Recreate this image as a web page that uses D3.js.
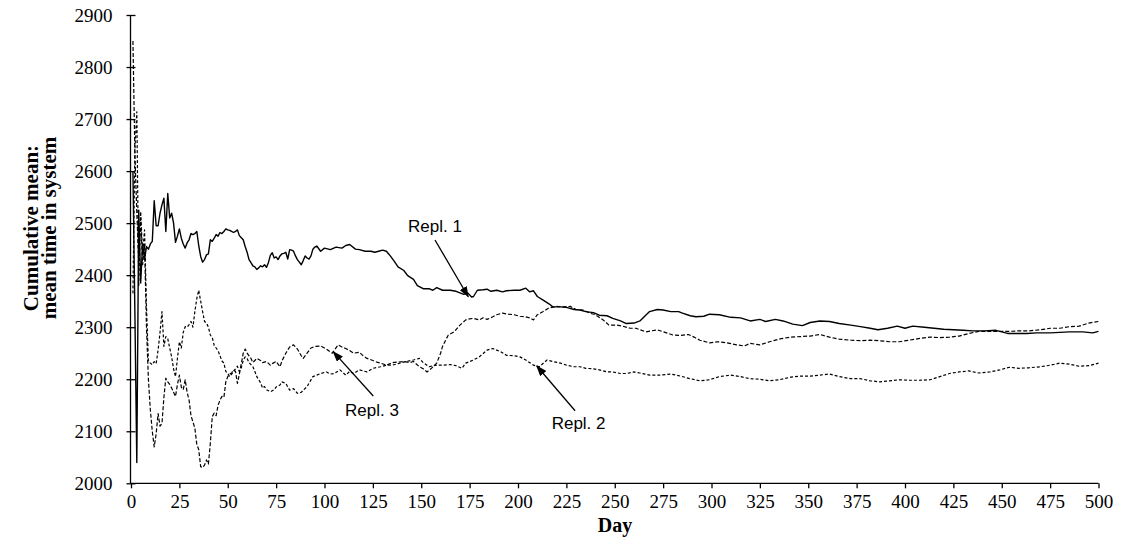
<!DOCTYPE html>
<html><head><meta charset="utf-8">
<script src="https://cdn.jsdelivr.net/npm/d3@7"></script>
<style>body{margin:0;background:#fff;} svg{display:block;}</style>
</head><body>
<svg id="chart" width="1127" height="556"></svg>
<script>
// ---------- DATA ----------
const yTickValues = [2000, 2100, 2200, 2300, 2400, 2500, 2600, 2700, 2800, 2900];
const xTickValues = [0, 25, 50, 75, 100, 125, 150, 175, 200, 225, 250, 275, 300, 325, 350, 375, 400, 425, 450, 475, 500];
const seriesNames = ["Repl. 1", "Repl. 2", "Repl. 3"];

const repl1Days = [1,2,3,4,5,6,7,8,9,10,11,12,13,14,15,16,17,18,19,20,21,22,23,24,25,26,27,28,29,30,31,32,33,34,35,36,37,38,39,40,41,42,43,44,45,46,47,48,49,50,51,52,53,54,55,56,57,58,59,60,61,62,63,64,65,66,67,68,69,70,71,72,73,74,75,76,77,78,79,80,81,82,83,84,85,86,87,88,89,90,91,92,93,94,95,96,
 98,100,103,106,109,111,113,116,118,121,124,126,128,130,132,134,136,138,141,143,146,148,151,154,156,158,161,165,168,172,174,176,177,179,182,184,186,189,192,194,198,201,204,206,208,210,213,216,218,222,225,229,232,235,239,242,246,249,253,256,260,263,266,268,272,275,279,283,285,289,292,296,299,304,310,315,320,325,328,333,337,342,347,351,356,361,366,372,377,382,386,391,396,400,404,410,415,420,425,430,435,441,447,453,458,463,468,475,480,485,492,497,500];
const repl1Values = [2600,2330,2040,2525,2385,2460,2430,2455,2450,2460,2465,2543,2495,2495,2519,2535,2548,2484,2557,2510,2519,2500,2463,2475,2489,2471,2460,2452,2462,2468,2480,2478,2480,2484,2457,2436,2425,2430,2439,2441,2468,2465,2471,2478,2475,2482,2480,2484,2489,2487,2486,2484,2482,2484,2487,2476,2472,2468,2455,2444,2430,2424,2418,2416,2411,2414,2418,2416,2420,2415,2424,2438,2443,2433,2435,2430,2437,2441,2442,2444,2431,2449,2448,2446,2437,2430,2425,2420,2428,2437,2433,2431,2437,2450,2454,2456,
 2446,2452,2449,2454,2452,2457,2459,2450,2449,2446,2446,2444,2446,2448,2446,2437,2427,2416,2409,2399,2392,2380,2374,2374,2371,2376,2371,2371,2369,2363,2366,2358,2359,2371,2372,2373,2369,2371,2368,2370,2371,2371,2375,2368,2370,2359,2352,2345,2339,2339,2338,2334,2333,2330,2328,2323,2322,2317,2312,2307,2308,2312,2323,2330,2334,2333,2330,2330,2327,2322,2320,2321,2325,2324,2319,2318,2312,2315,2311,2315,2312,2306,2303,2309,2312,2311,2307,2304,2301,2298,2295,2298,2302,2298,2302,2300,2298,2296,2295,2294,2293,2293,2294,2288,2288,2288,2289,2289,2290,2291,2291,2289,2292];

const repl2Days = [1,2,3,4,5,6,7,8,9,10,11,12,13,14,15,16,17,18,19,20,21,22,23,24,25,26,27,28,29,30,31,32,33,34,35,36,37,38,39,40,41,42,43,44,45,46,47,48,49,50,51,52,53,54,55,56,57,58,59,60,61,62,63,64,65,66,67,68,69,70,71,72,73,74,75,77,78,80,82,84,86,88,91,94,96,98,101,103,105,108,111,113,115,118,120,122,125,129,132,135,139,142,146,149,151,154,158,161,165,168,171,173,177,180,184,187,191,194,198,201,204,208,211,215,218,222,225,229,232,235,239,242,246,249,253,256,260,263,268,273,279,284,289,294,299,304,310,315,320,325,330,335,341,346,351,356,361,366,372,377,382,387,392,397,402,407,413,418,423,428,433,438,444,449,454,459,464,470,475,480,485,490,495,500];
const repl2Values = [2365,2640,2714,2380,2522,2440,2487,2340,2234,2231,2228,2234,2230,2256,2290,2330,2263,2282,2278,2260,2243,2220,2205,2240,2272,2260,2290,2301,2300,2305,2311,2300,2330,2355,2371,2350,2330,2311,2308,2300,2285,2280,2265,2260,2255,2245,2235,2231,2215,2211,2205,2210,2215,2220,2225,2215,2222,2236,2243,2240,2232,2228,2224,2215,2205,2199,2193,2183,2186,2180,2178,2176,2178,2180,2185,2189,2195,2192,2179,2182,2173,2175,2186,2205,2208,2211,2214,2210,2211,2218,2208,2215,2211,2218,2216,2214,2221,2224,2227,2227,2231,2234,2237,2240,2232,2224,2227,2227,2228,2226,2221,2231,2237,2243,2256,2259,2253,2246,2245,2243,2237,2227,2224,2237,2234,2231,2227,2224,2224,2221,2220,2218,2214,2214,2211,2211,2214,2212,2208,2208,2210,2206,2201,2197,2199,2205,2208,2205,2201,2200,2197,2199,2204,2206,2206,2208,2210,2205,2201,2201,2197,2195,2197,2199,2198,2198,2199,2205,2211,2214,2216,2212,2214,2218,2223,2221,2222,2224,2227,2231,2229,2225,2226,2231];

const repl3Days = [1,2,3,4,5,6,7,8,9,10,11,12,13,14,15,16,17,18,19,20,21,22,23,24,25,26,27,28,29,30,31,32,33,34,35,36,37,38,39,40,41,42,43,44,45,46,47,48,49,50,51,52,53,54,55,56,57,58,59,60,61,62,63,64,65,66,67,68,70,72,73,75,77,78,80,82,84,86,88,89,91,93,95,98,101,104,107,109,111,113,115,118,120,122,125,127,129,132,135,138,141,144,146,149,151,153,155,158,160,161,163,164,167,170,173,175,177,180,182,184,187,189,192,195,198,201,204,206,208,210,213,216,220,223,227,230,234,237,240,244,247,251,254,258,261,266,272,276,280,284,288,291,294,299,303,308,313,317,320,325,330,336,341,346,351,356,361,366,372,377,382,387,392,397,402,407,413,418,423,428,433,438,444,449,454,459,464,470,475,480,485,490,495,500];
const repl3Values = [2850,2635,2520,2430,2510,2420,2460,2300,2199,2141,2100,2070,2095,2134,2110,2115,2165,2202,2195,2190,2183,2175,2167,2190,2208,2185,2180,2199,2175,2160,2130,2118,2106,2075,2065,2032,2030,2035,2045,2037,2077,2128,2135,2130,2150,2160,2167,2165,2195,2205,2210,2212,2218,2215,2192,2210,2230,2250,2258,2250,2245,2240,2232,2236,2240,2238,2236,2232,2234,2227,2230,2234,2224,2235,2250,2262,2266,2258,2245,2240,2250,2260,2263,2264,2258,2250,2266,2262,2259,2255,2250,2252,2245,2240,2236,2233,2231,2227,2232,2233,2234,2232,2234,2224,2220,2214,2220,2231,2250,2263,2278,2285,2291,2304,2314,2316,2317,2314,2318,2315,2320,2324,2327,2325,2324,2321,2320,2318,2314,2324,2330,2337,2340,2339,2340,2334,2333,2327,2324,2314,2304,2304,2302,2298,2298,2291,2295,2290,2285,2284,2286,2281,2275,2270,2272,2270,2266,2264,2269,2266,2272,2278,2281,2282,2283,2286,2281,2277,2275,2274,2275,2274,2272,2272,2275,2278,2281,2280,2281,2283,2288,2292,2292,2292,2292,2293,2293,2295,2298,2298,2301,2302,2308,2311];

// ---------- LAYOUT ----------
const serif = "'Liberation Serif', 'Times New Roman', Times, serif";
const sans = "'Liberation Sans', Arial, Helvetica, sans-serif";
const svg = d3.select("#chart");
const x = d3.scaleLinear().domain([0, 500]).range([131, 1098.5]);
const y = d3.scaleLinear().domain([2000, 2900]).range([483.3, 15]);

const series = [
  {name: seriesNames[0], days: repl1Days, values: repl1Values, dash: null, width: 1.4},
  {name: seriesNames[1], days: repl2Days, values: repl2Values, dash: "3,2", width: 1.2},
  {name: seriesNames[2], days: repl3Days, values: repl3Values, dash: "4,2", width: 1.2}
];

// annotations anchored in data units
const annotations = [
  {label: seriesNames[0], tx: 143.2, ty: 2483, from: [157.1, 2467.6], to: [174.3, 2358.6]},
  {label: seriesNames[1], tx: 217.4, ty: 2104, from: [229.5, 2139.5], to: [209.7, 2225.4]},
  {label: seriesNames[2], tx: 110.6, ty: 2129.3, from: [125.2, 2167.8], to: [104.5, 2253]}
];

const defs = svg.append("defs");
defs.append("marker").attr("id", "arrow")
  .attr("markerUnits", "userSpaceOnUse")
  .attr("markerWidth", 11).attr("markerHeight", 8)
  .attr("refX", 10).attr("refY", 4).attr("orient", "auto")
  .append("path").attr("d", "M0,0 L11,4 L0,8 Z").attr("fill", "#000");

// lines
const line = d3.line().x(d => x(d[0])).y(d => y(d[1]));
series.forEach(s => {
  const pts = s.days.map((d, i) => [d, s.values[i]]);
  svg.append("path").datum(pts)
    .attr("d", line)
    .attr("fill", "none")
    .attr("stroke", "#000")
    .attr("stroke-width", s.width)
    .attr("stroke-linejoin", "round")
    .attr("stroke-dasharray", s.dash);
});

// axes
const xAxis = svg.append("g").attr("transform", `translate(0,${y(2000)})`)
  .call(d3.axisBottom(x).tickValues(xTickValues).tickFormat(d3.format("d"))
    .tickSize(5).tickSizeOuter(0).tickPadding(6));
xAxis.attr("font-family", serif).attr("font-size", 19);
xAxis.select(".domain").attr("stroke", "#000").attr("stroke-width", 1.3)
  .attr("d", `M${x(0)},0H${x(500)}`);
xAxis.selectAll(".tick line").attr("stroke", "#000").attr("stroke-width", 1.3);
xAxis.selectAll("text").style("font-family", serif)
  .style("font-size", "19px").attr("fill", "#000");

const yAxis = svg.append("g").attr("transform", `translate(${x(0) - 0.5},0)`)
  .call(d3.axisLeft(y).tickValues(yTickValues).tickFormat(d3.format("d"))
    .tickSize(5).tickSizeOuter(0).tickPadding(13));
yAxis.attr("font-family", serif).attr("font-size", 19);
yAxis.select(".domain").attr("stroke", "#000").attr("stroke-width", 1.3)
  .attr("d", `M0,${y(2900)}V${y(2000)}`);
yAxis.selectAll(".tick line").attr("stroke", "#000").attr("stroke-width", 1.3)
  .attr("x1", 5).attr("x2", -4);
yAxis.selectAll("text").style("font-family", serif)
  .style("font-size", "19px").attr("fill", "#000");

// axis titles
svg.append("text").attr("x", 615).attr("y", 532)
  .attr("text-anchor", "middle")
  .style("font-family", serif)
  .style("font-weight", "bold").style("font-size", "20px").text("Day");

const yTitle = svg.append("text")
  .attr("transform", "translate(38,228) rotate(-90)")
  .attr("text-anchor", "middle")
  .style("font-family", serif)
  .style("font-weight", "bold").style("font-size", "21px");
yTitle.append("tspan").attr("x", 0).attr("y", 0).text("Cumulative mean:");
yTitle.append("tspan").attr("x", 0).attr("y", 18).text("mean time in system");

// annotations
annotations.forEach(a => {
  svg.append("text").attr("x", x(a.tx)).attr("y", y(a.ty))
    .style("font-family", sans)
    .style("font-size", "17px").attr("fill", "#000").text(a.label);
  svg.append("line")
    .attr("x1", x(a.from[0])).attr("y1", y(a.from[1]))
    .attr("x2", x(a.to[0])).attr("y2", y(a.to[1]))
    .attr("stroke", "#000").attr("stroke-width", 1.3)
    .attr("marker-end", "url(#arrow)");
});
</script>
</body></html>
